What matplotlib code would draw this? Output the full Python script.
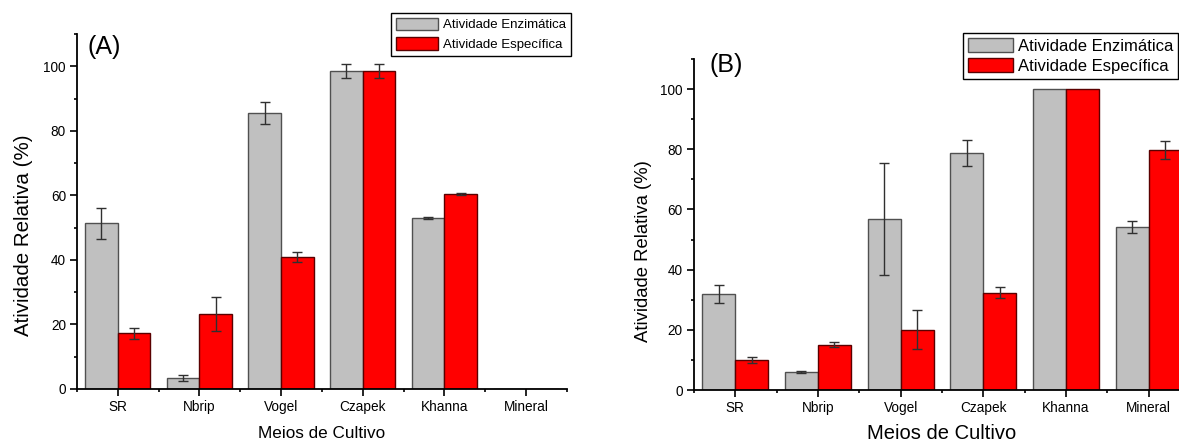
import numpy as np
import matplotlib
matplotlib.use('Agg')
import matplotlib.pyplot as plt
from matplotlib.ticker import MultipleLocator, FixedLocator

plt.rcParams['font.family'] = ['Liberation Sans', 'DejaVu Sans']

# culture media
meios = ['SR', 'Nbrip', 'Vogel', 'Czapek', 'Khanna', 'Mineral']

# (A) relative activity (%) and standard deviations
enz_a = [51.3, 3.4, 85.6, 98.5, 53.0, 0.0]
enz_a_err = [4.7, 0.9, 3.4, 2.2, 0.2, 0.0]
esp_a = [17.2, 23.3, 40.9, 98.5, 60.3, 0.0]
esp_a_err = [1.6, 5.3, 1.6, 2.2, 0.3, 0.0]

# (B) relative activity (%) and standard deviations
enz_b = [31.8, 5.9, 56.8, 78.9, 100.0, 54.2]
enz_b_err = [3.0, 0.3, 18.6, 4.3, 0.0, 2.1]
esp_b = [10.0, 15.0, 20.1, 32.4, 100.0, 79.8]
esp_b_err = [1.0, 0.8, 6.6, 1.8, 0.0, 3.0]

GRAY = '#c0c0c0'
RED = '#ff0000'
W = 0.4


def painel(ax, enz, enz_err, esp, esp_err, letra, fs_label, fs_tick):
    x = np.arange(len(meios))
    err_kw = dict(ecolor='#303030', elinewidth=1.0, capsize=3.5, capthick=1.0)
    # no error bar drawn where the deviation is zero
    enz_err = np.ma.masked_equal(enz_err, 0.0)
    esp_err = np.ma.masked_equal(esp_err, 0.0)
    ax.bar(x - W/2, enz, W, color=GRAY, edgecolor='#505050', linewidth=1.0,
           label='Atividade Enzimática')
    ax.bar(x + W/2, esp, W, color=RED, edgecolor='#5a0000', linewidth=1.0,
           label='Atividade Específica')
    for xs, ys, es in [(x - W/2, enz, enz_err), (x + W/2, esp, esp_err)]:
        ok = ~np.ma.getmaskarray(es)
        ax.errorbar(xs[ok], np.asarray(ys)[ok], yerr=es.compressed(),
                    fmt='none', **err_kw)
    ax.set_xlim(-0.5, len(meios) - 0.5)
    ax.set_ylim(0, 110)
    ax.spines['top'].set_visible(False)
    ax.spines['right'].set_visible(False)
    for s in ['left', 'bottom']:
        ax.spines[s].set_linewidth(1.3)
    ax.set_xticks(x)
    ax.set_xticklabels(meios, fontsize=fs_tick)
    ax.xaxis.set_minor_locator(FixedLocator(np.arange(-0.5, len(meios), 1.0)))
    ax.yaxis.set_major_locator(MultipleLocator(20))
    ax.yaxis.set_minor_locator(MultipleLocator(10))
    ax.tick_params(which='major', length=5, width=1.2, labelsize=fs_tick,
                   direction='out', pad=3)
    ax.tick_params(which='minor', length=2.5, width=1.2, direction='out')
    ax.set_xlabel('Meios de Cultivo', fontsize=fs_label)
    ax.set_ylabel('Atividade Relativa (%)', fontsize=fs_label + 2.5)
    ax.text(0.022, 0.962, letra, transform=ax.transAxes, fontsize=18,
            ha='left', va='center')


fig = plt.figure(figsize=(11.79, 4.43), dpi=100)

ax1 = fig.add_axes([0.0653, 0.1219, 0.4156, 0.8014])
painel(ax1, enz_a, enz_a_err, esp_a, esp_a_err, '(A)', 12.3, 9.8)
ax1.xaxis.set_label_coords(0.5, -0.105)
ax1.yaxis.set_label_coords(-0.09, 0.434)
ax1.legend(loc='upper right', bbox_to_anchor=(0.4843, 0.9707),
           bbox_transform=fig.transFigure, fontsize=9.5, frameon=True,
           fancybox=False, edgecolor='black', framealpha=1,
           handlelength=3.2, handleheight=1.1, handletextpad=0.4,
           labelspacing=0.45, borderpad=0.35, borderaxespad=0)
ax1.get_legend().get_frame().set_linewidth(1.0)

ax2 = fig.add_axes([0.5886, 0.1196, 0.4207, 0.7472])
painel(ax2, enz_b, enz_b_err, esp_b, esp_b_err, '(B)', 14.5, 9.8)
ax2.texts[0].set_position((0.032, 0.982))
ax2.yaxis.label.set_fontsize(13.3)
ax2.xaxis.set_label_coords(0.5, -0.103)
ax2.yaxis.set_label_coords(-0.085, 0.42)
ax2.legend(loc='upper left', bbox_to_anchor=(0.8168, 0.9255),
           bbox_transform=fig.transFigure, fontsize=12, frameon=True,
           fancybox=False, edgecolor='black', framealpha=1,
           handlelength=2.7, handleheight=0.9, handletextpad=0.3,
           labelspacing=0.25, borderpad=0.3, borderaxespad=0)
ax2.get_legend().get_frame().set_linewidth(1.0)

fig.savefig('out.png', dpi=100)
